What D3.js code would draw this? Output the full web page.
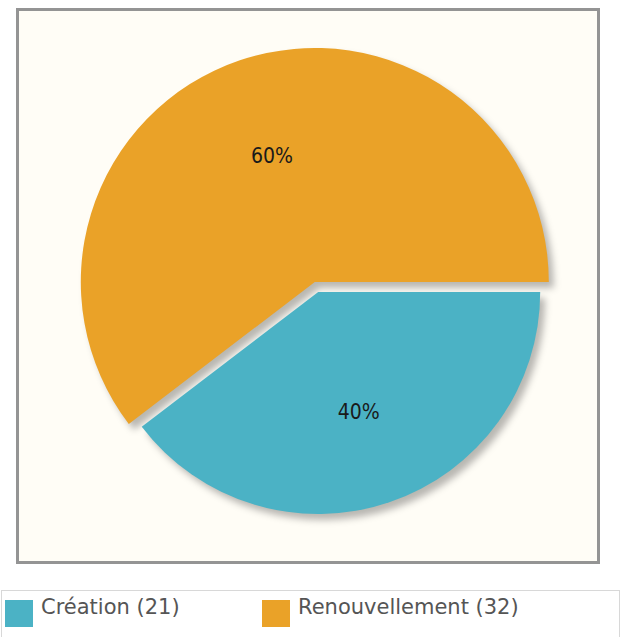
<!DOCTYPE html>
<html>
<head>
<meta charset="utf-8">
<script src="https://cdn.jsdelivr.net/npm/d3@7"></script>
<style>
body { margin: 0; background: #ffffff; }
text { font-family: "DejaVu Sans", sans-serif; }
.pct { font-family: "Liberation Sans Narrow", "DejaVu Sans Condensed", "DejaVu Sans", sans-serif; }
</style>
</head>
<body>
<div id="chart"></div>
<script>
var w = 622;
var h = 637;

// data
var categories = ["Création", "Renouvellement"];
var counts = [21, 32];
var colors = ["#4bb2c5", "#eaa228"];

var cx = 316.5, cy = 287;
var sliceOffset = 5.3;

var svg = d3.select("#chart")
            .append("svg")
            .attr("width", w)
            .attr("height", h);

var defs = svg.append("defs");
var blur = defs.append("filter")
    .attr("id", "shadowBlur")
    .attr("x", "-10%").attr("y", "-10%")
    .attr("width", "120%").attr("height", "120%");
blur.append("feGaussianBlur").attr("stdDeviation", 3.5);

//frame
svg.append("rect")
    .attr("x", 17.5)
    .attr("y", 9.5)
    .attr("width", 581)
    .attr("height", 553)
    .attr("fill", "#fffdf6")
    .attr("stroke", "#949494")
    .attr("stroke-width", 3);

var total = d3.sum(counts);

var pie = d3.pie()
    .sort(null)
    .startAngle(Math.PI / 2)
    .endAngle(Math.PI / 2 + 2 * Math.PI);

var arcs = pie(counts);

// the small slice is drawn a bit smaller, as in the picture
function outerR(i) { return i === 0 ? 222 : 234; }

function offsetOf(d) {
    var m = (d.startAngle + d.endAngle) / 2;
    return [cx + sliceOffset * Math.sin(m), cy - sliceOffset * Math.cos(m)];
}

var arc = d3.arc().innerRadius(0);

//shadow
svg.append("g")
   .attr("filter", "url(#shadowBlur)")
   .selectAll("path")
   .data(arcs)
   .enter()
   .append("path")
   .attr("transform", function(d) {
        var o = offsetOf(d);
        return "translate(" + (o[0] + 5) + "," + (o[1] + 6) + ")";
   })
   .attr("d", function(d, i) { return arc.outerRadius(outerR(i))(d); })
   .attr("fill", "#000")
   .attr("fill-opacity", 0.28);

//slices
svg.append("g")
   .selectAll("path")
   .data(arcs)
   .enter()
   .append("path")
   .attr("transform", function(d) {
        var o = offsetOf(d);
        return "translate(" + o[0] + "," + o[1] + ")";
   })
   .attr("d", function(d, i) { return arc.outerRadius(outerR(i))(d); })
   .attr("fill", function(d, i) { return colors[i]; });

//labels
svg.append("g")
   .selectAll("text")
   .data(arcs)
   .enter()
   .append("text")
   .attr("class", "pct")
   .attr("x", function(d, i) {
        var m = (d.startAngle + d.endAngle) / 2;
        return offsetOf(d)[0] + 0.57 * outerR(i) * Math.sin(m);
   })
   .attr("y", function(d, i) {
        var m = (d.startAngle + d.endAngle) / 2;
        return offsetOf(d)[1] - 0.57 * outerR(i) * Math.cos(m);
   })
   .attr("text-anchor", "middle")
   .attr("dominant-baseline", "central")
   .attr("font-size", 21)
   .attr("fill", "#1a1a1a")
   .text(function(d) { return Math.round(d.value / total * 100) + "%"; });

//legend
var legend = svg.append("g");
legend.append("rect")
    .attr("x", 1.5)
    .attr("y", 590.5)
    .attr("width", 618)
    .attr("height", 60)
    .attr("fill", "#ffffff")
    .attr("stroke", "#d8d8d8");

var legendX = d3.scaleBand()
    .domain(categories)
    .range([5, 519]);

var items = legend.selectAll(".item")
    .data(categories)
    .enter()
    .append("g")
    .attr("class", "item")
    .attr("transform", function(d) { return "translate(" + legendX(d) + ",0)"; });

items.append("rect")
    .attr("x", 0)
    .attr("y", 600)
    .attr("width", 28)
    .attr("height", 27)
    .attr("fill", function(d, i) { return colors[i]; });

items.append("text")
    .attr("x", 36)
    .attr("y", 614)
    .attr("font-size", 21)
    .attr("fill", "#555")
    .text(function(d, i) { return d + " (" + counts[i] + ")"; });
</script>
</body>
</html>
